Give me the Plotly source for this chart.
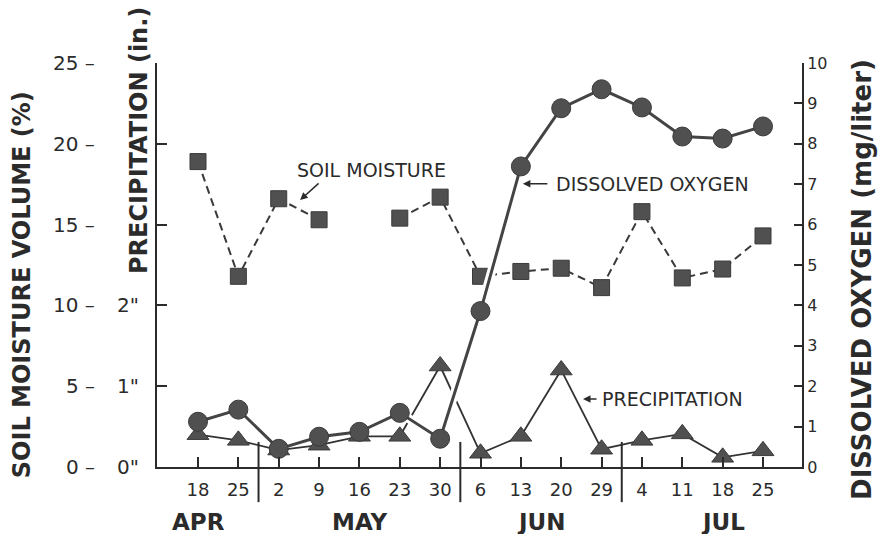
import plotly.graph_objects as go

# ---------------- data ----------------
days = ["18", "25", "2", "9", "16", "23", "30", "6", "13", "20", "29", "4", "11", "18", "25"]
months = ["APR", "MAY", "JUN", "JUL"]
month_pos = [0, 4, 8.5, 13]          # centre of month label, in category-index units
month_breaks = [1.5, 6.5, 10.5]      # separators between months

soil_moisture = [18.9, 11.8, 16.6, 15.3, None, 15.4, 16.7, 11.8, 12.1, 12.3, 11.1, 15.8, 11.7, 12.25, 14.3]
dissolved_oxygen = [1.12, 1.42, 0.45, 0.75, 0.87, 1.34, 0.70, 3.86, 7.44, 8.88, 9.35, 8.90, 8.18, 8.13, 8.43]
precip_in = [0.40, 0.33, 0.21, 0.27, 0.38, 0.38, 1.25, 0.17, 0.38, 1.20, 0.22, 0.33, 0.41, 0.12, 0.20]

soil_ticks = [0, 5, 10, 15, 20, 25]
precip_ticks = [0, 1, 2]
do_ticks = list(range(0, 11))

# ---------------- styling ----------------
INK = "#2b2b2b"
MARK = "#505050"
FONT = "DejaVu Sans"

x = list(range(len(days)))
precip_scaled = [p * 5 for p in precip_in]   # 1 inch == 5 % on the left scale

fig = go.Figure()

# precipitation
fig.add_trace(go.Scatter(
    x=x, y=precip_scaled, mode="lines+markers", yaxis="y",
    line=dict(color="#333333", width=1.8),
    marker=dict(symbol="triangle-up", size=19, color=MARK, line=dict(color="#3a3a3a", width=1)),
    showlegend=False, hoverinfo="skip"))

# white halo under steep part of dissolved oxygen line (crossing gaps)
fig.add_trace(go.Scatter(
    x=x[5:9], y=dissolved_oxygen[5:9], mode="lines", yaxis="y2",
    line=dict(color="white", width=9), showlegend=False, hoverinfo="skip"))

# soil moisture
fig.add_trace(go.Scatter(
    x=x, y=soil_moisture, mode="lines+markers", yaxis="y", connectgaps=False,
    line=dict(color="#3a3a3a", width=2, dash="8px,5px"),
    marker=dict(symbol="square", size=16, color=MARK, line=dict(color="#3a3a3a", width=1)),
    showlegend=False, hoverinfo="skip"))

# dissolved oxygen
fig.add_trace(go.Scatter(
    x=x, y=dissolved_oxygen, mode="lines+markers", yaxis="y2",
    line=dict(color="#444444", width=3),
    marker=dict(symbol="circle", size=19, color=MARK, line=dict(color="#3a3a3a", width=1)),
    showlegend=False, hoverinfo="skip"))

annotations = []
# left tick labels (soil moisture) with dash
for v in soil_ticks:
    annotations.append(dict(x=0, xref="paper", y=v, yref="y", text=f"{v} \u2013",
                            showarrow=False, xanchor="right", yanchor="middle", xshift=-60,
                            font=dict(family=FONT, size=20, color=INK)))
# precipitation tick labels
for v in precip_ticks:
    annotations.append(dict(x=0, xref="paper", y=v * 5, yref="y", text=f'{v}"',
                            showarrow=False, xanchor="right", yanchor="middle", xshift=-16,
                            font=dict(family=FONT, size=20, color=INK)))
# axis titles
annotations.append(dict(x=0, xref="paper", y=0.45, yref="paper", text="SOIL MOISTURE VOLUME (%)",
                        textangle=-90, showarrow=False, xanchor="center", yanchor="middle", xshift=-135,
                        font=dict(family=FONT, size=24, color=INK, weight="bold")))
annotations.append(dict(x=0, xref="paper", y=0.807, yref="paper", text="PRECIPITATION (in.)",
                        textangle=-90, showarrow=False, xanchor="center", yanchor="middle", xshift=-18,
                        font=dict(family=FONT, size=24, color=INK, weight="bold")))
annotations.append(dict(x=1, xref="paper", y=0.463, yref="paper", text="DISSOLVED OXYGEN (mg/liter)",
                        textangle=-90, showarrow=False, xanchor="center", yanchor="middle", xshift=60,
                        font=dict(family=FONT, size=26, color=INK, weight="bold")))
# month labels
for m, p in zip(months, month_pos):
    annotations.append(dict(x=p, xref="x", y=0, yref="paper", text=m, showarrow=False,
                            xanchor="center", yanchor="middle", yshift=-55,
                            font=dict(family=FONT, size=23, color=INK, weight="bold")))
# series labels
annotations.append(dict(x=2.4, xref="x", y=18.38, yref="y", text="SOIL MOISTURE", showarrow=False,
                        xanchor="left", yanchor="middle", font=dict(family=FONT, size=19, color=INK)))
annotations.append(dict(x=8.82, xref="x", y=7.01, yref="y2", text="DISSOLVED OXYGEN", showarrow=False,
                        xanchor="left", yanchor="middle", font=dict(family=FONT, size=19, color=INK)))
annotations.append(dict(x=9.96, xref="x", y=4.21, yref="y", text="PRECIPITATION", showarrow=False,
                        xanchor="left", yanchor="middle", font=dict(family=FONT, size=19, color=INK)))
# arrows
annotations.append(dict(x=2.53, xref="x", y=16.52, yref="y", text="", showarrow=True,
                        ax=20, ay=-18, arrowhead=2, arrowsize=1, arrowwidth=1.5, arrowcolor=INK))
annotations.append(dict(x=8.05, xref="x", y=7.01, yref="y2", text="", showarrow=True,
                        ax=26, ay=0, arrowhead=2, arrowsize=1, arrowwidth=1.5, arrowcolor=INK))
annotations.append(dict(x=9.54, xref="x", y=4.21, yref="y", text="", showarrow=True,
                        ax=15, ay=0, arrowhead=2, arrowsize=1, arrowwidth=1.5, arrowcolor=INK))

shapes = [dict(type="line", xref="x", yref="paper", x0=b, x1=b, y0=0.062, y1=-0.087,
               line=dict(color=INK, width=2)) for b in month_breaks]

fig.update_layout(
    width=879, height=534,
    margin=dict(l=157, r=77, t=63, b=67),
    paper_bgcolor="white", plot_bgcolor="white",
    xaxis=dict(range=[-1.016, 14.966], tickmode="array", tickvals=x, ticktext=days,
               ticks="inside", ticklen=10, tickwidth=2, tickcolor=INK,
               showline=True, linecolor=INK, linewidth=2, showgrid=False, zeroline=False,
               ticklabelstandoff=5,
               tickfont=dict(family=FONT, size=18, color=INK)),
    yaxis=dict(range=[0, 25], tickmode="array", tickvals=soil_ticks, showticklabels=False,
               ticks="inside", ticklen=10, tickwidth=2, tickcolor=INK,
               showline=True, linecolor=INK, linewidth=2, showgrid=False, zeroline=False),
    yaxis2=dict(range=[0, 10], overlaying="y", side="right", tickmode="array", tickvals=do_ticks,
                ticks="inside", ticklen=8, tickwidth=2, tickcolor=INK,
                showline=True, linecolor=INK, linewidth=2, showgrid=False, zeroline=False,
                tickfont=dict(family=FONT, size=16, color=INK)),
    annotations=annotations, shapes=shapes,
)

fig.write_html("out.html")
